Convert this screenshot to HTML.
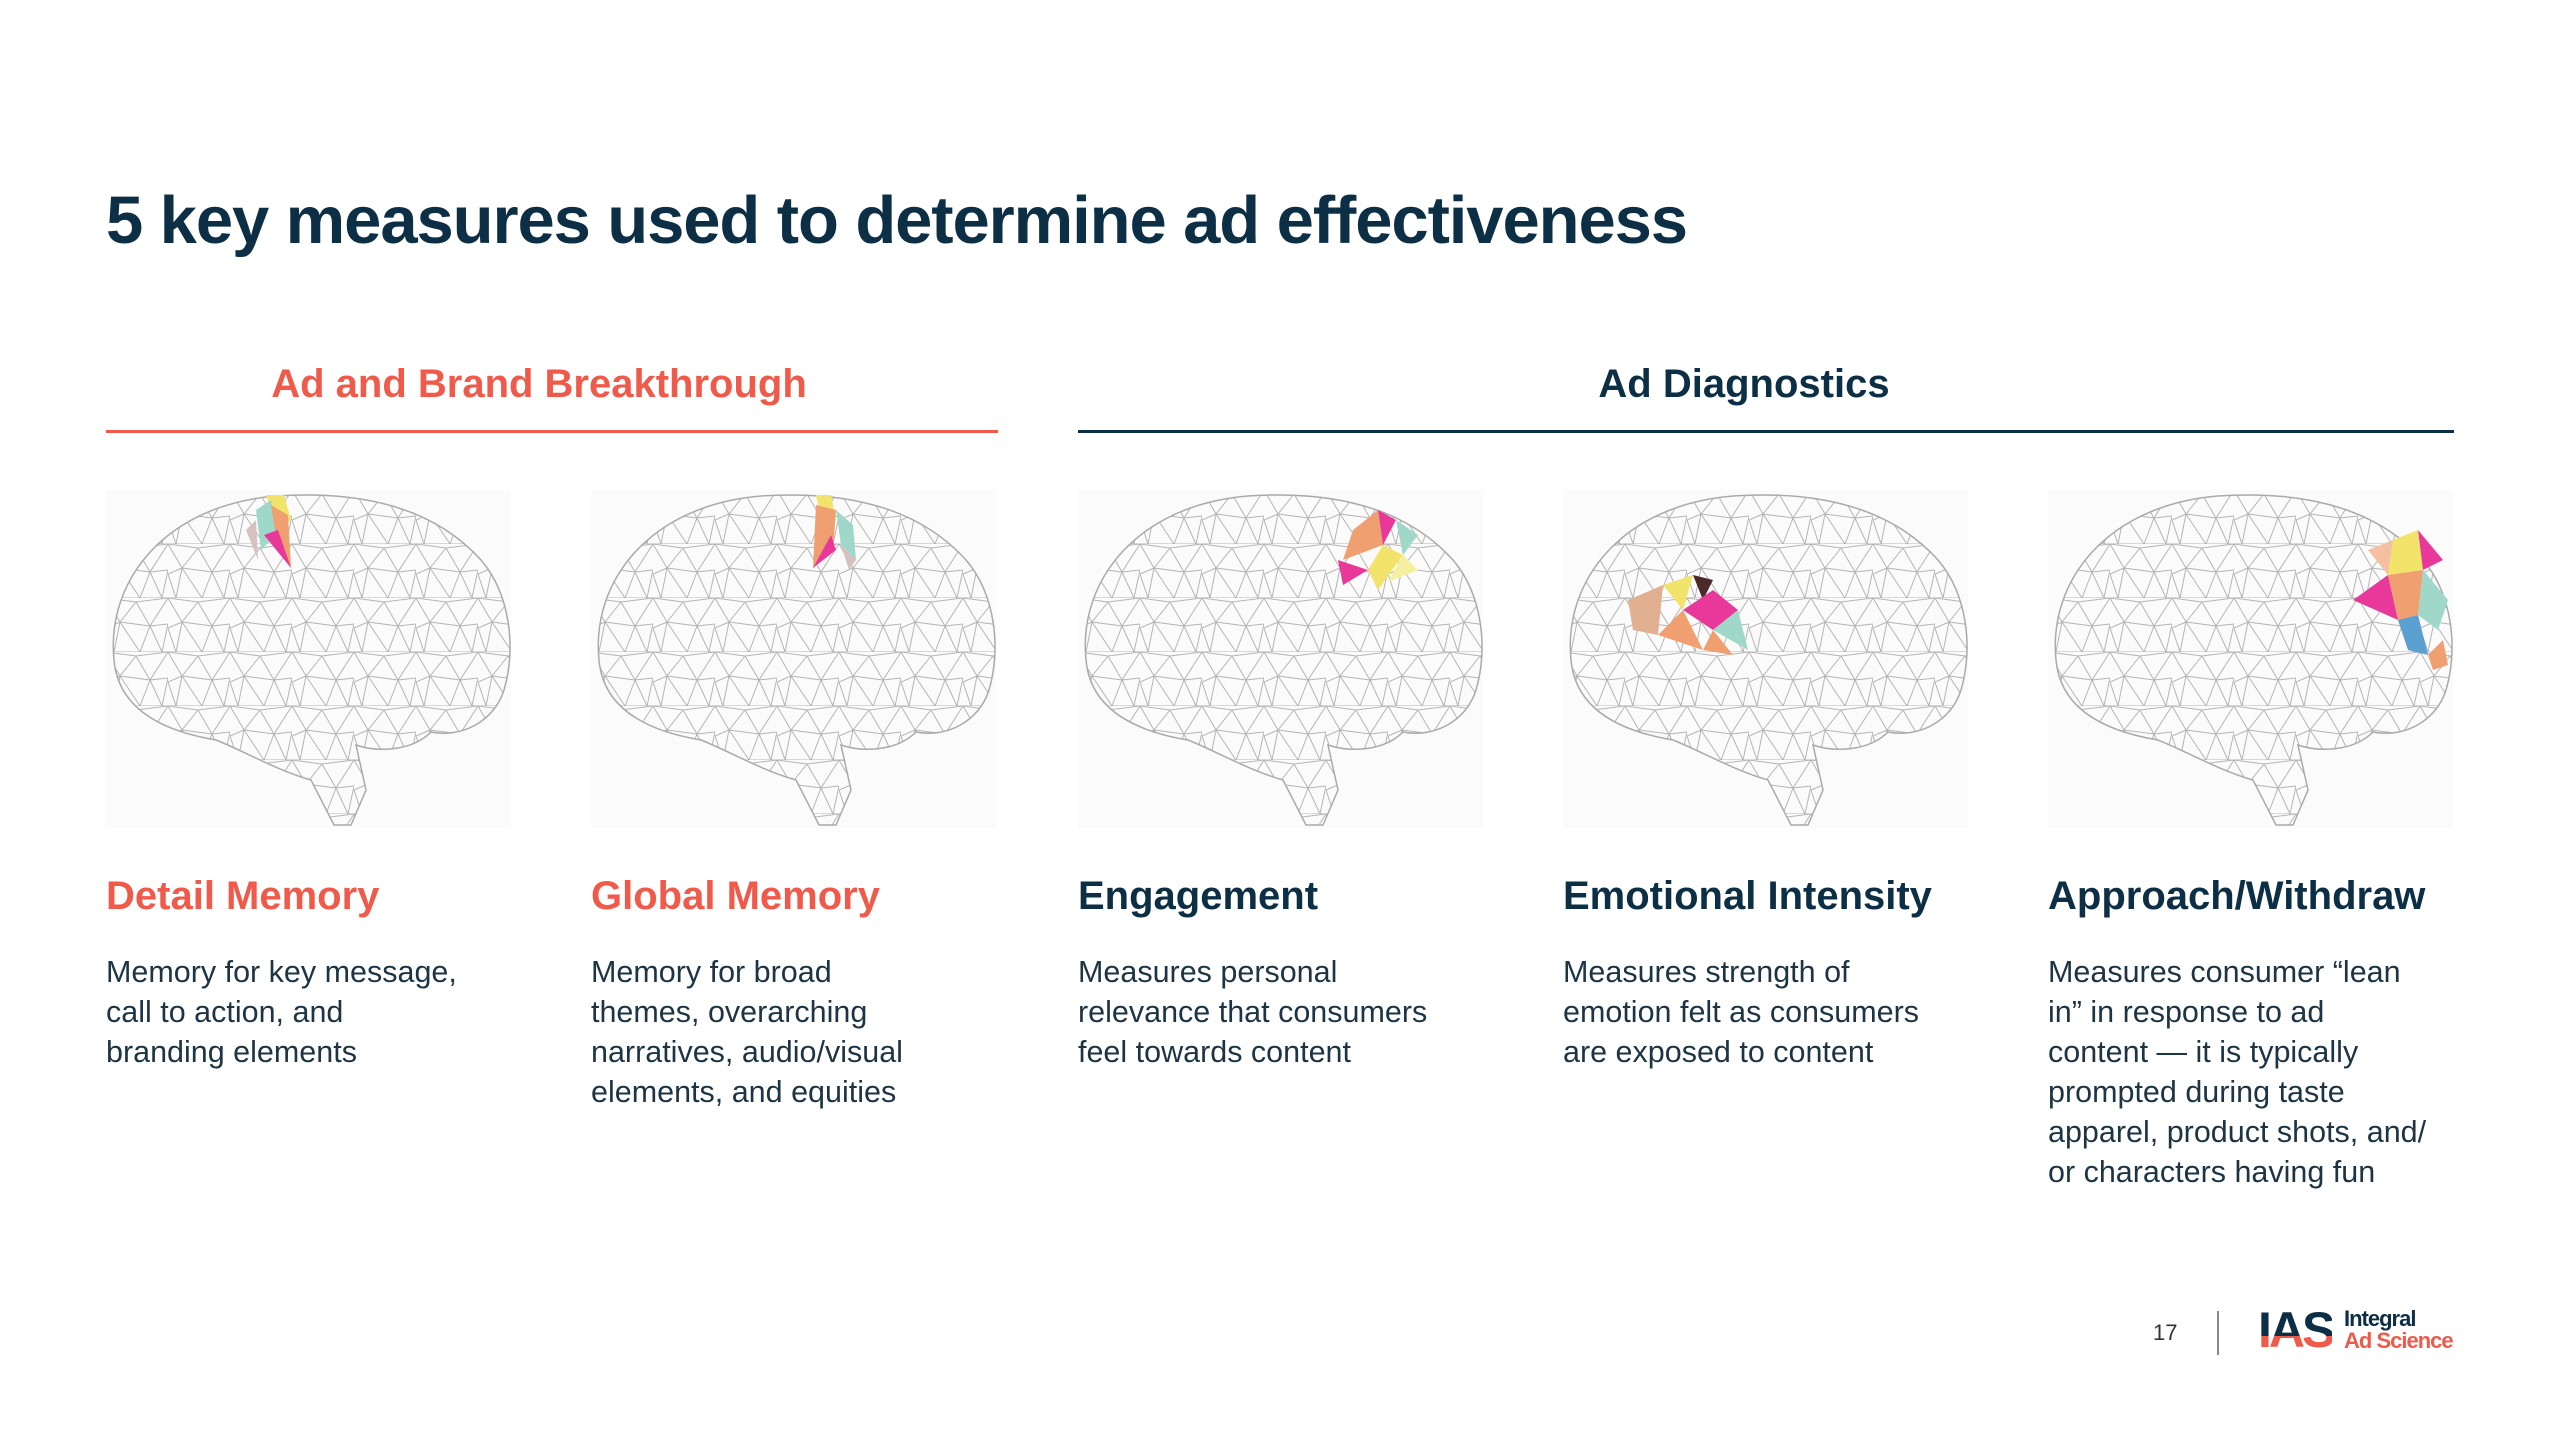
<!DOCTYPE html>
<html><head><meta charset="utf-8">
<style>
body{margin:0;width:2560px;height:1440px;background:#fff;position:relative;overflow:hidden;font-family:"Liberation Sans",sans-serif;color:#0f2d40}
.abs{position:absolute}
h1{position:absolute;left:106px;top:182px;margin:0;font-size:67px;font-weight:bold;color:#0c2f45;letter-spacing:-1.1px;white-space:nowrap}
.sec{position:absolute;top:362px;font-size:40px;font-weight:bold;text-align:center}
.col{position:absolute;top:870px;width:460px}
.col h2{margin:0;font-size:40px;font-weight:bold;line-height:52px}
.col p{margin:30px 0 0;font-size:30.5px;line-height:40px;color:#1c3444}
.red{color:#f05a4a}.navy{color:#0c2f45}
svg.b{position:absolute;top:490px;width:405px;height:338px}
</style></head><body>
<h1>5 key measures used to determine ad effectiveness</h1>
<div class="sec red" style="left:106px;width:866px">Ad and Brand Breakthrough</div>
<div class="sec navy" style="left:1056px;width:1376px">Ad Diagnostics</div>
<div class="abs" style="left:106px;top:430px;width:892px;height:3px;background:#f05a4a"></div>
<div class="abs" style="left:1078px;top:430px;width:1376px;height:3px;background:#0c2f45"></div>

<svg width="0" height="0" style="position:absolute">
<defs>
<pattern id="mesh" width="62" height="54" patternUnits="userSpaceOnUse">
<path d="M0,0L30,4L62,0 M0,0L14,24L30,4L44,28L62,0 M14,24L44,28 M0,30L14,24 M44,28L62,26 M14,24L8,54 M14,24L34,54 M44,28L34,54 M44,28L56,54 M0,54L62,54 M0,30L8,54 M62,26L56,54" fill="none" stroke="#b4b4b4" stroke-width="1"/>
</pattern>
<clipPath id="bc"><path d="M8,170C0,90 60,15 170,6C260,0 330,20 375,70C405,105 410,160 398,200C388,232 355,248 325,242C305,262 270,262 250,255L260,300L245,335L228,335L205,290C170,280 140,262 110,250C50,240 12,215 8,170Z"/></clipPath>
</defs></svg>

<svg class="b" style="left:106px" viewBox="0 0 405 338"><rect width="405" height="338" fill="#fbfbfb"/><g clip-path="url(#bc)"><rect width="405" height="338" fill="url(#mesh)"/></g><path d="M8,170C0,90 60,15 170,6C260,0 330,20 375,70C405,105 410,160 398,200C388,232 355,248 325,242C305,262 270,262 250,255L260,300L245,335L228,335L205,290C170,280 140,262 110,250C50,240 12,215 8,170Z" fill="none" stroke="#aaa" stroke-width="1.5"/>
<polygon points="160,5 178,5 185,30 172,40" fill="#f2e46a"/><polygon points="150,20 165,10 170,45 155,60" fill="#9fd8c8"/><polygon points="165,15 182,25 185,78 172,60" fill="#f0a070"/><polygon points="158,45 172,40 185,78" fill="#e8399a"/><polygon points="140,40 150,30 152,70" fill="#d8c0c0"/></svg>

<svg class="b" style="left:591px" viewBox="0 0 405 338"><rect width="405" height="338" fill="#fbfbfb"/><g clip-path="url(#bc)"><rect width="405" height="338" fill="url(#mesh)"/></g><path d="M8,170C0,90 60,15 170,6C260,0 330,20 375,70C405,105 410,160 398,200C388,232 355,248 325,242C305,262 270,262 250,255L260,300L245,335L228,335L205,290C170,280 140,262 110,250C50,240 12,215 8,170Z" fill="none" stroke="#aaa" stroke-width="1.5"/>
<polygon points="225,5 240,5 245,30 232,40" fill="#f2e46a"/><polygon points="225,15 245,20 242,60 222,78" fill="#f0a070"/><polygon points="222,78 240,45 245,60" fill="#e8399a"/><polygon points="245,20 262,35 265,70 250,55" fill="#9fd8c8"/><polygon points="250,55 265,70 258,80" fill="#d8c0c0"/></svg>

<svg class="b" style="left:1078px" viewBox="0 0 405 338"><rect width="405" height="338" fill="#fbfbfb"/><g clip-path="url(#bc)"><rect width="405" height="338" fill="url(#mesh)"/></g><path d="M8,170C0,90 60,15 170,6C260,0 330,20 375,70C405,105 410,160 398,200C388,232 355,248 325,242C305,262 270,262 250,255L260,300L245,335L228,335L205,290C170,280 140,262 110,250C50,240 12,215 8,170Z" fill="none" stroke="#aaa" stroke-width="1.5"/>
<polygon points="275,40 300,20 305,55 265,70" fill="#f0a070"/><polygon points="300,20 318,30 305,55" fill="#e8399a"/><polygon points="318,30 340,45 325,65" fill="#9fd8c8"/><polygon points="305,55 325,65 300,100 290,80" fill="#f2e46a"/><polygon points="260,70 290,80 265,95" fill="#e8399a"/><polygon points="325,65 340,80 310,92" fill="#f4f0a0"/></svg>

<svg class="b" style="left:1563px" viewBox="0 0 405 338"><rect width="405" height="338" fill="#fbfbfb"/><g clip-path="url(#bc)"><rect width="405" height="338" fill="url(#mesh)"/></g><path d="M8,170C0,90 60,15 170,6C260,0 330,20 375,70C405,105 410,160 398,200C388,232 355,248 325,242C305,262 270,262 250,255L260,300L245,335L228,335L205,290C170,280 140,262 110,250C50,240 12,215 8,170Z" fill="none" stroke="#aaa" stroke-width="1.5"/>
<polygon points="65,110 100,95 95,145 70,140" fill="#e0b090"/><polygon points="100,95 130,85 120,120" fill="#f2e46a"/><polygon points="130,85 150,90 140,110" fill="#4a2a2a"/><polygon points="120,120 150,100 175,120 150,140" fill="#e8399a"/><polygon points="95,145 120,120 140,160" fill="#f0a070"/><polygon points="150,140 175,120 185,160" fill="#9fd8c8"/><polygon points="140,160 150,140 170,165" fill="#f0a070"/></svg>

<svg class="b" style="left:2048px" viewBox="0 0 405 338"><rect width="405" height="338" fill="#fbfbfb"/><g clip-path="url(#bc)"><rect width="405" height="338" fill="url(#mesh)"/></g><path d="M8,170C0,90 60,15 170,6C260,0 330,20 375,70C405,105 410,160 398,200C388,232 355,248 325,242C305,262 270,262 250,255L260,300L245,335L228,335L205,290C170,280 140,262 110,250C50,240 12,215 8,170Z" fill="none" stroke="#aaa" stroke-width="1.5"/>
<polygon points="345,50 370,40 375,80 340,85" fill="#f2e46a"/><polygon points="305,110 340,85 350,130" fill="#e8399a"/><polygon points="340,85 375,80 370,125 350,130" fill="#f0a070"/><polygon points="375,80 400,110 390,140 370,125" fill="#9fd8c8"/><polygon points="350,130 370,125 380,165 360,160" fill="#5aa0d0"/><polygon points="370,40 395,70 375,80" fill="#e8399a"/><polygon points="380,165 395,150 400,175 385,180" fill="#f0a070"/><polygon points="320,60 345,50 340,85" fill="#f4c0a0"/></svg>

<div class="col" style="left:106px"><h2 class="red">Detail Memory</h2><p>Memory for key message,<br>call to action, and<br>branding elements</p></div>
<div class="col" style="left:591px"><h2 class="red">Global Memory</h2><p>Memory for broad<br>themes, overarching<br>narratives, audio/visual<br>elements, and equities</p></div>
<div class="col" style="left:1078px"><h2 class="navy">Engagement</h2><p>Measures personal<br>relevance that consumers<br>feel towards content</p></div>
<div class="col" style="left:1563px"><h2 class="navy">Emotional Intensity</h2><p>Measures strength of<br>emotion felt as consumers<br>are exposed to content</p></div>
<div class="col" style="left:2048px"><h2 class="navy">Approach/Withdraw</h2><p>Measures consumer “lean<br>in” in response to ad<br>content — it is typically<br>prompted during taste<br>apparel, product shots, and/<br>or characters having fun</p></div>

<div class="abs" style="left:2153px;top:1320px;font-size:22px;color:#333">17</div>
<div class="abs" style="left:2217px;top:1311px;width:2px;height:44px;background:#888"></div>
<div class="abs" style="left:2258px;top:1305px;font-size:50px;font-weight:bold;letter-spacing:-3px;line-height:50px;background:linear-gradient(#0c2f45 62%,#f05a4a 62%);-webkit-background-clip:text;color:transparent">IAS</div>
<div class="abs" style="left:2344px;top:1308px;font-size:22px;font-weight:bold;line-height:22px;letter-spacing:-1px;color:#0c2f45">Integral<br><span style="color:#f05a4a">Ad Science</span></div>
</body></html>
